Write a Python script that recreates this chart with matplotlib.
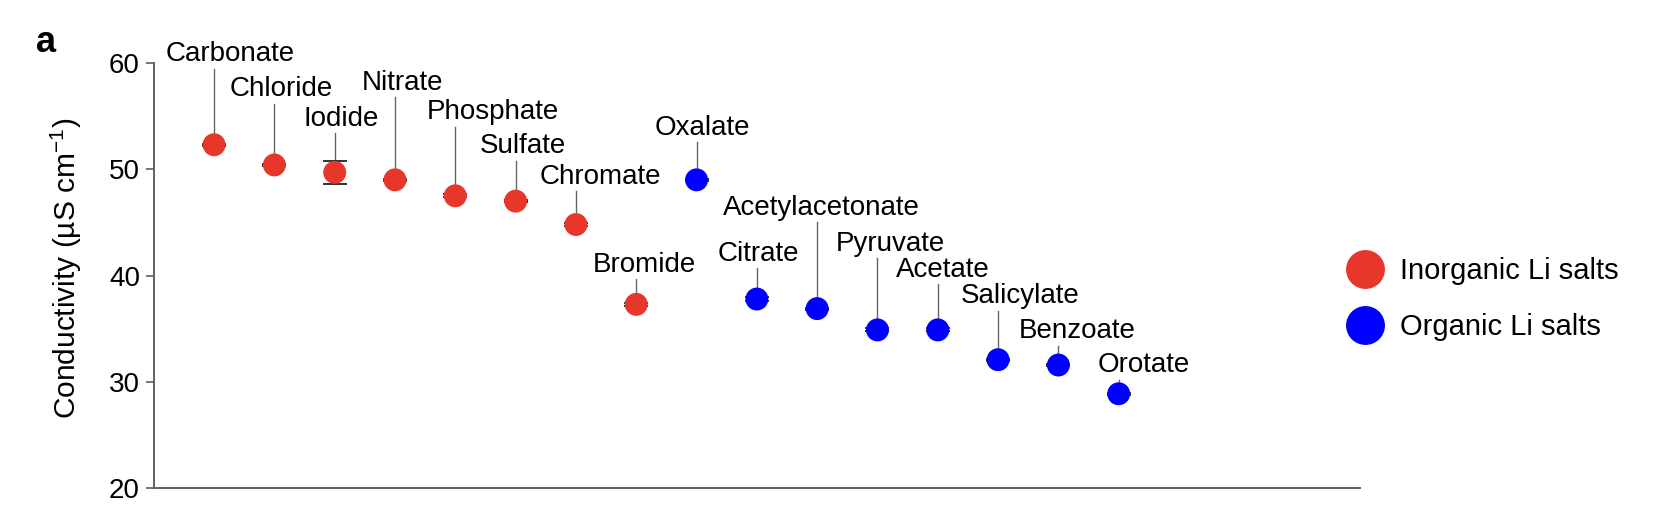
import matplotlib

matplotlib.use('Agg')
import matplotlib.pyplot as plt
from matplotlib.lines import Line2D

plt.rcParams['font.family'] = ['Liberation Sans', 'DejaVu Sans']
plt.rcParams['mathtext.default'] = 'regular'

# salts, in plotting order
SALTS = ['Carbonate', 'Chloride', 'Iodide', 'Nitrate', 'Phosphate', 'Sulfate',
         'Chromate', 'Bromide', 'Oxalate', 'Citrate', 'Acetylacetonate',
         'Pyruvate', 'Acetate', 'Salicylate', 'Benzoate', 'Orotate']
ORGANIC = [False] * 8 + [True] * 8
# conductivity (uS/cm) and error
CONDUCTIVITY = [52.3, 50.4, 49.7, 49.0, 47.5, 47.0, 44.8, 37.3,
                49.0, 37.8, 36.9, 34.9, 34.9, 32.1, 31.6, 28.9]
ERRORS = [0.1, 0.1, 1.1, 0.1, 0.15, 0.1, 0.15, 0.15,
          0.1, 0.15, 0.1, 0.15, 0.15, 0.1, 0.1, 0.1]
# label anchor (text centre x, baseline y) in data units
LABEL_X = [1.27, 2.12, 3.10, 4.13, 5.62, 6.12, 7.41, 8.13,
           9.09, 10.02, 11.07, 12.21, 13.08, 14.36, 15.32, 16.42]
LABEL_Y = [60.15, 56.85, 54.1, 57.45, 54.7, 51.5, 48.65, 40.35,
           53.25, 41.4, 45.7, 42.35, 39.9, 37.4, 34.1, 30.9]

RED = '#e6372a'
BLUE = '#0000ff'
GREY = '#606060'

fig = plt.figure(figsize=(16.68, 5.18), dpi=100)
ax = fig.add_axes([0.0922, 0.057, 0.8153 - 0.0922, 0.8788 - 0.057])

xs = list(range(1, len(SALTS) + 1))
colors = [BLUE if org else RED for org in ORGANIC]

# leader lines
for x, y, ly in zip(xs, CONDUCTIVITY, LABEL_Y):
    ax.plot([x, x], [y, ly - 0.7], color='#666666', lw=1, zorder=1, clip_on=False)

ax.errorbar(xs, CONDUCTIVITY, yerr=ERRORS, fmt='none', ecolor='#222222',
            elinewidth=1, capsize=8.5, capthick=1.3, zorder=2)
ax.scatter(xs, CONDUCTIVITY, s=16.5 ** 2, c=colors, edgecolors='none', zorder=3)

for name, lx, ly in zip(SALTS, LABEL_X, LABEL_Y):
    ax.text(lx, ly, name, ha='center', va='baseline', fontsize=20, clip_on=False)

ax.set_xlim(0, 20)
ax.set_ylim(20, 60)
ax.set_yticks([20, 30, 40, 50, 60])
ax.set_xticks([])
for side in ['top', 'right']:
    ax.spines[side].set_visible(False)
for side in ['left', 'bottom']:
    ax.spines[side].set_color(GREY)
    ax.spines[side].set_linewidth(1.4)
ax.tick_params(axis='y', direction='out', length=6, width=1.2, color=GREY,
               labelsize=20, pad=4)

fig.text(66 / 1668, 0.482, 'Conductivity (µS cm$^{-1}$)', rotation=90,
         ha='center', va='center', fontsize=21.5)
fig.text(46 / 1668, 1 - 43 / 518, 'a', ha='center', va='center',
         fontsize=26, fontweight='bold')

handles = [Line2D([], [], ls='none', marker='o', ms=28, color=RED, mec='none'),
           Line2D([], [], ls='none', marker='o', ms=28, color=BLUE, mec='none')]
fig.legend(handles, ['Inorganic Li salts', 'Organic Li salts'],
           loc='center left', bbox_to_anchor=(1350 / 1668, 1 - 298.9 / 518),
           frameon=False, fontsize=21, handlelength=1.0, handletextpad=0.71,
           labelspacing=0.95, borderpad=0, borderaxespad=0)

fig.savefig('out.png', dpi=100)
